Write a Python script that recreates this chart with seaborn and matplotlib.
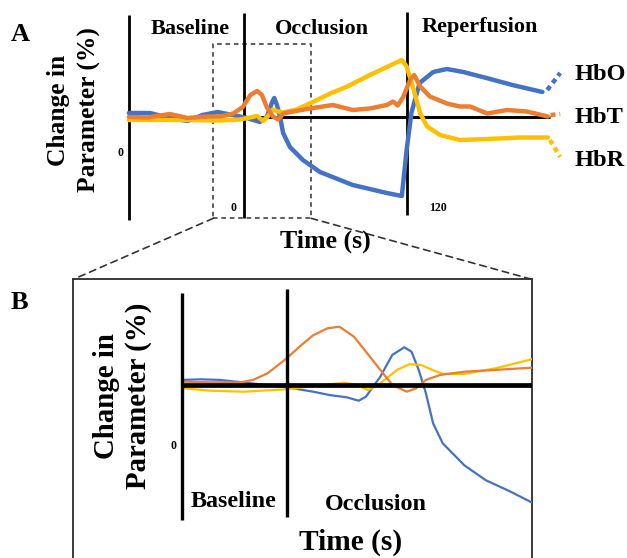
import numpy as np
import pandas as pd
import matplotlib
matplotlib.use("Agg")
import matplotlib.pyplot as plt
import seaborn as sns
from matplotlib.patches import ConnectionPatch, Rectangle

# ---------------- data ----------------
# Panel A : time (s) vs change (%)
HBO_A_T = [-84, -68.5, -54, -41, -30, -19, -8, 2.5, 12, 17, 21, 22.5, 24.5, 27, 29, 34,
           43.5, 56, 80, 105, 116, 119.5, 123, 129, 139, 149, 161, 178, 197, 219]
HBO_A_Y = [0.4, 0.4, -0.1, -0.4, 0.2, 0.5, 0.2, -0.1, -0.5, 0.0, 1.5, 1.9, 1.2, -0.1, -1.6, -3.0,
           -4.3, -5.5, -6.8, -7.6, -7.9, -3.3, 0.4, 3.4, 4.5, 4.8, 4.5, 3.9, 3.2, 2.5]
HBT_A_T = [-84, -70.5, -54, -41, -26.5, -17, -7.5, -0.5, 5, 10, 13.5, 17, 21.5, 25.5, 29, 36.5,
           48.5, 65.5, 80, 92.5, 105, 109.5, 113, 117, 122, 125, 129.5, 136.5, 149, 158.5,
           166, 178.5, 193, 207.5, 223]
HBT_A_Y = [0.0, -0.05, 0.3, -0.1, 0.05, 0.05, 0.35, 1.0, 2.2, 2.6, 2.2, 1.0, 0.05, -0.25, 0.35, 0.55,
           0.85, 1.2, 0.7, 0.85, 1.2, 1.55, 1.15, 2.0, 3.7, 4.2, 3.05, 2.05, 1.35, 1.05,
           1.05, 0.35, 0.7, 0.55, 0.05]
HBR_A_T = [-84, -66, -41.5, -17, -2.5, 10, 14.5, 18, 21.5, 25.5, 29, 39, 48.5, 63.5, 76, 92.5,
           116, 119.5, 124, 129.5, 134.5, 144, 158.5, 178.5, 202.5, 223]
HBR_A_Y = [-0.3, -0.3, -0.3, -0.35, -0.25, 0.1, -0.4, 0.1, 0.75, 0.55, 0.45, 0.75, 1.35, 2.35, 3.05, 4.2,
           5.7, 5.05, 3.05, 0.35, -0.95, -1.8, -2.3, -2.2, -2.05, -2.05]
# dotted continuations to the legend labels
HBO_EXT_T, HBO_EXT_Y = [222.5, 232], [2.7, 4.4]
HBT_EXT_T, HBT_EXT_Y = [225, 232], [0.2, 0.3]
HBR_EXT_T, HBR_EXT_Y = [224.5, 232], [-2.3, -4.0]

# Panel B : zoomed window (time s vs change %)
HBO_B_T = [-21.5, -18, -14, -8.5, 0, 5.5, 9, 12.5, 15, 16.5, 19.5, 22, 24.5, 26, 27.5, 29,
           30.5, 32.5, 37, 41.5, 46.5, 51]
HBO_B_Y = [0.27, 0.3, 0.27, 0.13, -0.1, -0.32, -0.49, -0.6, -0.77, -0.57, 0.43, 1.52, 1.9, 1.68, 0.77, -0.4,
           -1.9, -2.9, -4.0, -4.75, -5.3, -5.85]
HBT_B_T = [-21.5, -16, -9.5, -7, -4, 0, 3, 5.5, 8.5, 11, 14, 16.5, 19.5, 22, 25, 27, 29, 32, 37, 43.5, 51]
HBT_B_Y = [0.18, 0.15, 0.15, 0.27, 0.6, 1.35, 2.0, 2.5, 2.85, 2.93, 2.43, 1.68, 0.77, 0.02, -0.32, -0.15,
           0.27, 0.52, 0.68, 0.77, 0.88]
HBR_B_T = [-21.5, -16, -9, 0, 5.5, 9, 12, 14.5, 17, 19.5, 23, 25.5, 28, 30, 32.5, 37, 43.5, 51]
HBR_B_Y = [-0.15, -0.27, -0.32, -0.2, -0.04, 0.05, 0.13, 0.02, -0.24, 0.1, 0.77, 1.05, 1.02, 0.8, 0.57, 0.57,
           0.85, 1.3]

SERIES = ["HbO", "HbT", "HbR"]
COLORS = {"HbO": "#4472C4", "HbT": "#ED7D31", "HbR": "#FFC000"}
PHASES_A = ["Baseline", "Occlusion", "Reperfusion"]
PHASES_B = ["Baseline", "Occlusion"]
TIME_TICKS_A = ["0", "0", "120"]
Y_LABEL = "Change in\nParameter (%)"
X_LABEL = "Time (s)"

# phase boundaries (s) and zoom window
T_START_A, T_OCC, T_REP, T_END_A = -84.2, 0, 120, 224.5
ZOOM_T0, ZOOM_T1, ZOOM_Y0, ZOOM_Y1 = -22.1, 49.5, -10.13, 7.3
T_START_B, T_END_B = -21.8, 51.04

# ---------------- styling ----------------
sns.set_style("white")
plt.rcParams["font.family"] = ["Liberation Serif", "DejaVu Serif"]
plt.rcParams["font.weight"] = "bold"
plt.rcParams["text.color"] = "black"

W, H = 627, 558
fig = plt.figure(figsize=(W / 100, H / 100), dpi=100)


def px_axes(x0, y0, x1, y1):
    return fig.add_axes([x0 / W, 1 - y1 / H, (x1 - x0) / W, (y1 - y0) / H])


def ftext(x, y, s, **kw):
    kw.setdefault("fontweight", "bold")
    kw.setdefault("color", "black")
    fig.text(x / W, 1 - y / H, s, **kw)


# ---------------- panel A ----------------
axA = px_axes(100, 8, 570, 225)
axA.set_xlim(-105.13, 239.19)
axA.set_ylim(-10.8, 10.9)
axA.axis("off")

axA.vlines([T_START_A], -10.3, 10.2, color="black", lw=2.0, zorder=2)
axA.vlines([T_OCC], -10.13, 10.37, color="black", lw=2.0, zorder=2)
axA.vlines([T_REP], -9.8, 10.53, color="black", lw=2.0, zorder=2)
axA.hlines([0], T_OCC, T_END_A, color="black", lw=2.2, zorder=2)

curvesA = {"HbO": (HBO_A_T, HBO_A_Y), "HbR": (HBR_A_T, HBR_A_Y), "HbT": (HBT_A_T, HBT_A_Y)}
extA = {"HbO": (HBO_EXT_T, HBO_EXT_Y), "HbT": (HBT_EXT_T, HBT_EXT_Y), "HbR": (HBR_EXT_T, HBR_EXT_Y)}
for name in ["HbO", "HbR", "HbT"]:
    t, y = curvesA[name]
    sns.lineplot(x=t, y=y, ax=axA, color=COLORS[name], lw=3.2, estimator=None, sort=False,
                 legend=False, solid_capstyle="round", solid_joinstyle="round", zorder=3)
for name in SERIES:
    t, y = extA[name]
    sns.lineplot(x=t, y=y, ax=axA, color=COLORS[name], lw=3.2, estimator=None, sort=False,
                 legend=False, linestyle=(0, (1.1, 0.9)), dash_capstyle="butt", zorder=3)

axA.add_patch(Rectangle((ZOOM_T0, ZOOM_Y0), ZOOM_T1 - ZOOM_T0, ZOOM_Y1 - ZOOM_Y0, fill=False,
                        ec="#333333", lw=1.1, linestyle=(0, (3, 2.5)), zorder=1))

# ---------------- panel B ----------------
axB = px_axes(73.3, 279.3, 531.7, 558)
axB.set_xlim(-44.46, 51.04)
axB.set_ylim(-8.635, 5.3)
axB.set_xticks([])
axB.set_yticks([])
for side in ["top", "left", "right"]:
    axB.spines[side].set_visible(True)
    axB.spines[side].set_color("#3a3a3a")
    axB.spines[side].set_linewidth(1.4)
axB.spines["bottom"].set_visible(False)
axB.set_facecolor("none")

curvesB = {"HbO": (HBO_B_T, HBO_B_Y), "HbR": (HBR_B_T, HBR_B_Y), "HbT": (HBT_B_T, HBT_B_Y)}
for name in ["HbO", "HbR", "HbT"]:
    t, y = curvesB[name]
    sns.lineplot(x=t, y=y, ax=axB, color=COLORS[name], lw=1.6, estimator=None, sort=False,
                 legend=False, solid_capstyle="round", solid_joinstyle="round", zorder=3)
axB.vlines([T_START_B], -6.735, 4.6, color="black", lw=2.4, zorder=4)
axB.vlines([T_OCC], -6.57, 4.8, color="black", lw=2.4, zorder=4)
axB.hlines([0], T_START_B, T_END_B, color="black", lw=3.4, zorder=4)

# connection lines from zoom box to panel B
for xa, xb in [(ZOOM_T0, 0), (ZOOM_T1, 1)]:
    con = ConnectionPatch(xyA=(xa, ZOOM_Y0), coordsA="data", axesA=axA,
                          xyB=(xb, 1), coordsB="axes fraction", axesB=axB,
                          color="#333333", lw=1.2, linestyle=(0, (4, 3)))
    fig.add_artist(con)

# ---------------- texts ----------------
ftext(11, 40.7, "A", fontsize=19, ha="left", va="baseline")
ftext(11, 309, "B", fontsize=19, ha="left", va="baseline")

# panel A phase titles
ftext(189.7, 34.3, PHASES_A[0], fontsize=16, ha="center", va="baseline")
ftext(321.7, 34.3, PHASES_A[1], fontsize=16, ha="center", va="baseline")
ftext(480, 31.7, PHASES_A[2], fontsize=16, ha="center", va="baseline")
ftext(74, 110, Y_LABEL, fontsize=18.4, ha="center", va="center", rotation=90,
      multialignment="center", linespacing=1.42)
ftext(325.8, 248, X_LABEL, fontsize=18.6, ha="center", va="baseline")
ftext(120, 153.3, TIME_TICKS_A[0], fontsize=8.5, ha="center", va="center")
ftext(233.3, 208.3, TIME_TICKS_A[1], fontsize=8.5, ha="center", va="center")
ftext(438.3, 208.3, TIME_TICKS_A[2], fontsize=8.5, ha="center", va="center")

# legend labels
for name, yb in zip(SERIES, [80, 123.3, 166.2]):
    ftext(575, yb, name, fontsize=17.5, ha="left", va="baseline")

# panel B texts
ftext(234, 507.3, PHASES_B[0], fontsize=17.4, ha="center", va="baseline")
ftext(376, 510.3, PHASES_B[1], fontsize=17.4, ha="center", va="baseline")
ftext(122.5, 396, Y_LABEL, fontsize=20.8, ha="center", va="center", rotation=90,
      multialignment="center", linespacing=1.25)
ftext(351, 550, X_LABEL, fontsize=21.2, ha="center", va="baseline")
ftext(173.3, 446, "0", fontsize=8.5, ha="center", va="center")

fig.savefig("out.png", dpi=100)
